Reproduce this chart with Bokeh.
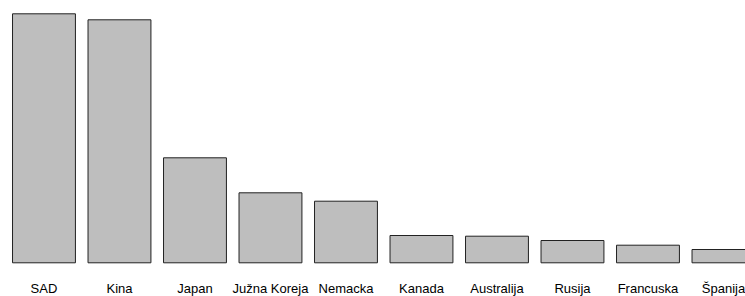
from bokeh.plotting import figure
from bokeh.models import ColumnDataSource, Range1d
from bokeh.core.properties import value
from bokeh.embed import file_html
from bokeh.resources import INLINE

countries = ["SAD", "Kina", "Japan", "Južna Koreja", "Nemacka", "Kanada",
             "Australija", "Rusija", "Francuska", "Španija"]
values = [249.0, 243.0, 105.0, 70.0, 61.6, 27.3, 26.6, 22.3, 17.6, 13.3]

# R-style barplot positions: width 1, space 0.2
xc = [0.7 + 1.2 * i for i in range(len(countries))]

src = ColumnDataSource(dict(x=xc, top=values, label=countries,
                            ly=[-26.0] * len(countries)))

p = figure(width=745, height=296, output_backend="svg", toolbar_location=None,
           x_range=Range1d(0.009, 11.85), y_range=Range1d(-33.7, 262.3),
           min_border=0)
p.axis.visible = False
p.grid.visible = False
p.outline_line_color = None
p.background_fill_color = "white"
p.border_fill_color = "white"

p.vbar(x="x", top="top", bottom=0, width=1.0, source=src,
       fill_color="#BEBEBE", line_color="#222222", line_width=1)

p.text(x="x", y="ly", text="label", source=src, text_align="center",
       text_baseline="middle", text_font=value("Liberation Sans"),
       text_font_size="13px", text_color="#000000")

open("out.html", "w").write(file_html(p, INLINE))
